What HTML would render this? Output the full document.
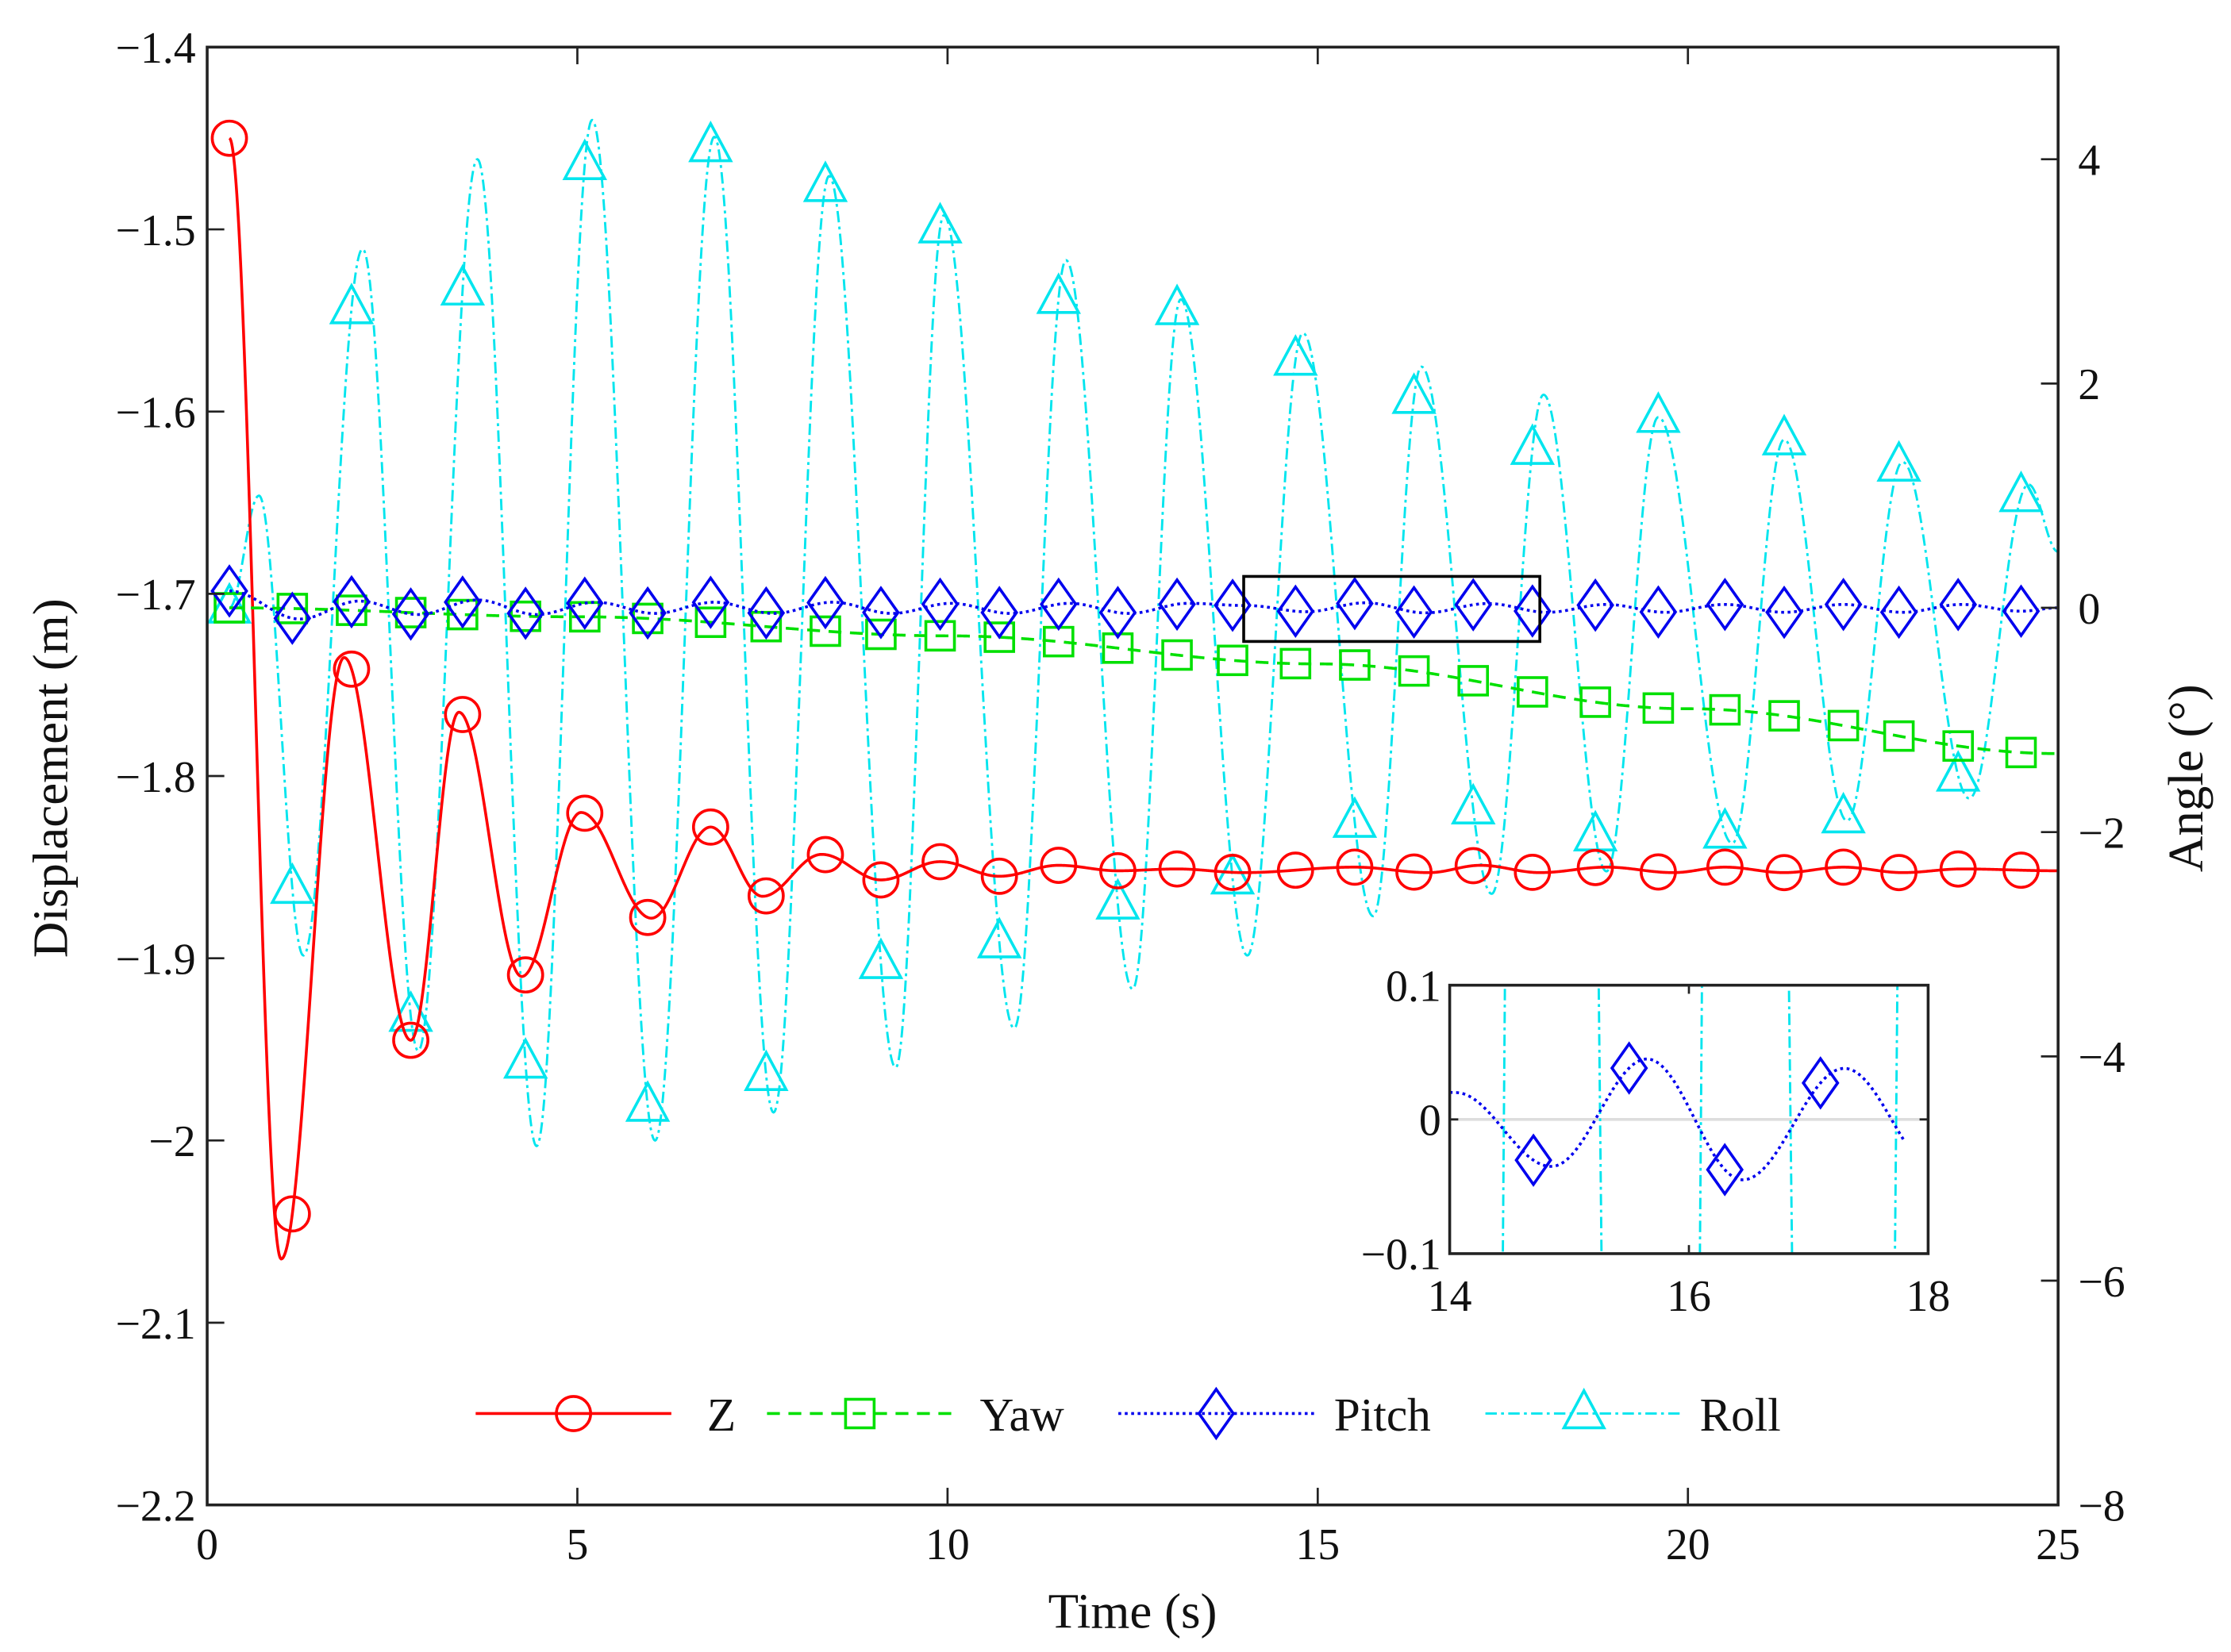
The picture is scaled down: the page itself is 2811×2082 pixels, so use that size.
<!DOCTYPE html>
<html><head><meta charset="utf-8"><style>
html,body{margin:0;padding:0;background:#fff;width:2811px;height:2082px;overflow:hidden}
svg{display:block}
text{font-family:"Liberation Serif",serif;fill:#111}
</style></head><body>
<svg id="chart" width="2811" height="2082" viewBox="0 0 1562 1157" xmlns="http://www.w3.org/2000/svg">
<defs>
<clipPath id="mainClip"><rect x="145" y="33" width="1296" height="1021"/></clipPath>
<clipPath id="insetClip"><rect x="1015" y="690" width="335" height="188"/></clipPath>
</defs>
<g id="plot"></g>
</svg>
<script>
// ---- data ----
const xTicks = [0, 5, 10, 15, 20, 25];
const leftTicks = [-1.4, -1.5, -1.6, -1.7, -1.8, -1.9, -2, -2.1, -2.2];
const leftTickLabels = ["\u22121.4","\u22121.5","\u22121.6","\u22121.7","\u22121.8","\u22121.9","\u22122","\u22122.1","\u22122.2"];
const rightTicks = [4, 2, 0, -2, -4, -6, -8];
const rightTickLabels = ["4","2","0","\u22122","\u22124","\u22126","\u22128"];
const markerTimes = [0.3,1.15,1.95,2.75,3.45,4.3,5.1,5.95,6.8,7.55,8.35,9.1,9.9,10.7,11.5,12.3,13.1,13.85,14.7,15.5,16.3,17.1,17.9,18.75,19.6,20.5,21.3,22.1,22.85,23.65,24.5];
const zTimes = [0.3,1.0,1.85,2.75,3.4,4.25,5.05,6.0,6.8,7.5,8.3,9.1,9.9,10.7,11.5,12.3,13.1,14.0,15.5,16.5,17.2,18.0,18.9,19.8,20.5,21.3,22.1,22.9,23.7,25];
const zValues = [-1.45,-2.065,-1.735,-1.945,-1.765,-1.91,-1.82,-1.878,-1.828,-1.866,-1.843,-1.857,-1.847,-1.855,-1.849,-1.852,-1.851,-1.853,-1.850,-1.853,-1.849,-1.853,-1.85,-1.853,-1.85,-1.853,-1.85,-1.853,-1.851,-1.852];
const yawTimes = [0.3,5,10,15,20,25];
const yawValues = [0,-0.08,-0.25,-0.5,-0.9,-1.3];
const pitchTimes = [0.3,1.25,2.05,2.85,3.65,4.45,5.25,6.05,6.85,7.65,8.45,9.25,10.05,10.85,11.65,12.45,13.25,14.05,14.85,15.65,16.45,17.3,18.1,18.9,19.7,20.5,21.3,22.1,22.9,23.7,24.5,25];
const pitchValues = [0.15,-0.1,0.06,-0.06,0.07,-0.06,0.05,-0.05,0.05,-0.05,0.05,-0.05,0.04,-0.05,0.04,-0.05,0.04,0.02,-0.035,0.045,-0.045,0.038,-0.04,0.03,-0.04,0.03,-0.04,0.03,-0.04,0.03,-0.03,0.0];
const rollTimes = [0.3,0.7,1.3,2.1,2.85,3.65,4.45,5.2,6.05,6.85,7.65,8.4,9.3,9.95,10.9,11.6,12.5,13.15,14.05,14.8,15.75,16.4,17.35,18.05,18.9,19.6,20.6,21.3,22.15,22.9,23.8,24.6,25];
const rollValues = [0,1.0,-3.1,3.2,-3.95,4.0,-4.8,4.35,-4.75,4.2,-4.5,3.85,-4.1,3.5,-3.75,3.1,-3.4,2.75,-3.1,2.45,-2.75,2.15,-2.55,1.9,-2.35,1.7,-2.1,1.5,-1.9,1.3,-1.7,1.1,0.5];
const insetXTicks = [14, 16, 18];
const insetYTicks = [0.1, 0, -0.1];
const insetYTickLabels = ["0.1","0","\u22120.1"];

// ---- axes ----
const X0=145,X1=1441,Y0=33,Y1=1054;
const sx = t => X0 + (t-0)/25*(X1-X0);
const syL = v => Y0 + (-1.4 - v)/0.8*(Y1-Y0);
const syR = v => Y0 + (5 - v)/13*(Y1-Y0);
const IX0=1015,IX1=1350,IY0=690,IY1=878;
const ix = t => IX0 + (t-14)/4*(IX1-IX0);
const iy = v => IY0 + (0.1 - v)/0.2*(IY1-IY0);

function interp(T,V,t){
  if(t<=T[0]) return V[0];
  for(let i=0;i<T.length-1;i++){
    if(t<=T[i+1]){const u=(t-T[i])/(T[i+1]-T[i]);return V[i]+(V[i+1]-V[i])*(1-Math.cos(Math.PI*u))/2;}
  }
  return V[V.length-1];
}
const NS="http://www.w3.org/2000/svg";
const plot=document.getElementById('plot');
function mk(tag,attrs,parent){const e=document.createElementNS(NS,tag);for(const k in attrs)e.setAttribute(k,attrs[k]);(parent||plot).appendChild(e);return e;}
function pathFor(T,V,xf,yf,t0,t1){let d='';for(let t=t0;t<=t1+1e-9;t+=0.01){d+=(d?'L':'M')+xf(t).toFixed(2)+','+yf(interp(T,V,t)).toFixed(2);}return d;}

const styles={
  z:{c:'#ff0000',dash:'',w:2},
  yaw:{c:'#00e000',dash:'9,6',w:2},
  pitch:{c:'#0000ee',dash:'2,2.5',w:2},
  roll:{c:'#00e5ee',dash:'8,3,2,3',w:1.6}
};
function marker(kind,x,y,parent,c){
  let e;
  if(kind==='z') e=mk('circle',{cx:x,cy:y,r:12,fill:'none',stroke:c,'stroke-width':2},parent);
  else if(kind==='yaw') e=mk('rect',{x:x-10,y:y-10,width:20,height:20,fill:'none',stroke:c,'stroke-width':2},parent);
  else if(kind==='pitch') e=mk('polygon',{points:`${x},${y-17} ${x+12},${y} ${x},${y+17} ${x-12},${y}`,fill:'none',stroke:c,'stroke-width':2},parent);
  else e=mk('polygon',{points:`${x},${y-16} ${x+14},${y+10} ${x-14},${y+10}`,fill:'none',stroke:c,'stroke-width':2},parent);
  return e;
}

// series
const mainG=mk('g',{'clip-path':'url(#mainClip)'});


const series=[
  ['roll',rollTimes,rollValues,syR],
  ['z',zTimes,zValues,syL],
  ['yaw',yawTimes,yawValues,syR],
  ['pitch',pitchTimes,pitchValues,syR]
];
series.forEach(([k,T,V,yf])=>{
  const s=styles[k];
  const p=mk('path',{d:pathFor(T,V,sx,yf,T[0],25),fill:'none',stroke:s.c,'stroke-width':s.w,'stroke-dasharray':s.dash},mainG);
  
  
  markerTimes.forEach(t=>{
    const m=marker(k,sx(t),yf(interp(T,V,t)),mainG,s.c);
    
    
  });
});

// zoom rectangle
const zr=mk('rect',{x:sx(14),y:syR(0.28),width:sx(18)-sx(14),height:syR(-0.3)-syR(0.28),fill:'none',stroke:'#000','stroke-width':2});



// main frame + ticks
const frame=mk('rect',{x:X0,y:Y0,width:X1-X0,height:Y1-Y0,fill:'none',stroke:'#222','stroke-width':2});


xTicks.forEach(t=>{
  mk('line',{x1:sx(t),y1:Y1,x2:sx(t),y2:Y1-12,stroke:'#222','stroke-width':1.5});
  mk('line',{x1:sx(t),y1:Y0,x2:sx(t),y2:Y0+12,stroke:'#222','stroke-width':1.5});
  const tx=mk('text',{x:sx(t),y:Y1+38,'text-anchor':'middle','font-size':31});
  tx.textContent=String(t);
  
  
});
leftTicks.forEach((v,i)=>{
  mk('line',{x1:X0,y1:syL(v),x2:X0+12,y2:syL(v),stroke:'#222','stroke-width':1.5});
  const tx=mk('text',{x:X0-8,y:syL(v)+11,'text-anchor':'end','font-size':31});
  tx.textContent=leftTickLabels[i];
  
  
});
rightTicks.forEach((v,i)=>{
  mk('line',{x1:X1,y1:syR(v),x2:X1-12,y2:syR(v),stroke:'#222','stroke-width':1.5});
  const tx=mk('text',{x:X1+14,y:syR(v)+11,'text-anchor':'start','font-size':31});
  tx.textContent=rightTickLabels[i];
  
  
});
const xl=mk('text',{x:793,y:1140,'text-anchor':'middle','font-size':35});xl.textContent='Time (s)';


const yl=mk('text',{x:0,y:0,'text-anchor':'middle','font-size':35,transform:'translate(47,545) rotate(-90)'});yl.textContent='Displacement (m)';


const yr=mk('text',{x:0,y:0,'text-anchor':'middle','font-size':35,transform:'translate(1542,545) rotate(-90)'});yr.textContent='Angle (\u00b0)';



// inset
const insetG=mk('g',{});


mk('rect',{x:IX0,y:IY0,width:IX1-IX0,height:IY1-IY0,fill:'#fff'},insetG);
mk('line',{x1:IX0,y1:iy(0),x2:IX1,y2:iy(0),stroke:'#ddd','stroke-width':2},insetG);
const icg=mk('g',{'clip-path':'url(#insetClip)'},insetG);
const ir=mk('path',{d:pathFor(rollTimes,rollValues,ix,iy,14,18),fill:'none',stroke:styles.roll.c,'stroke-width':1.6,'stroke-dasharray':styles.roll.dash},icg);


const ip=mk('path',{d:pathFor(pitchTimes,pitchValues,ix,iy,14,17.8),fill:'none',stroke:styles.pitch.c,'stroke-width':2,'stroke-dasharray':styles.pitch.dash},icg);


markerTimes.filter(t=>t>14&&t<17.8).forEach(t=>{
  const m=marker('pitch',ix(t),iy(interp(pitchTimes,pitchValues,t)),icg,styles.pitch.c);
  
  
});
mk('rect',{x:IX0,y:IY0,width:IX1-IX0,height:IY1-IY0,fill:'none',stroke:'#222','stroke-width':2},insetG);
insetXTicks.forEach(t=>{
  mk('line',{x1:ix(t),y1:IY1,x2:ix(t),y2:IY1-6,stroke:'#222','stroke-width':1.5},insetG);
  mk('line',{x1:ix(t),y1:IY0,x2:ix(t),y2:IY0+6,stroke:'#222','stroke-width':1.5},insetG);
  const tx=mk('text',{x:ix(t),y:IY1+40,'text-anchor':'middle','font-size':31},insetG);tx.textContent=String(t);
  
  
});
insetYTicks.forEach((v,i)=>{
  mk('line',{x1:IX0,y1:iy(v),x2:IX0+6,y2:iy(v),stroke:'#222','stroke-width':1.5},insetG);
  mk('line',{x1:IX1,y1:iy(v),x2:IX1-6,y2:iy(v),stroke:'#222','stroke-width':1.5},insetG);
  const tx=mk('text',{x:IX0-6,y:iy(v)+11,'text-anchor':'end','font-size':31},insetG);tx.textContent=insetYTickLabels[i];
  
  
});

// legend
const legend=[['z','Z',333,470,495],['yaw','Yaw',537,667,686],['pitch','Pitch',783,920,934],['roll','Roll',1040,1178,1190]];
const lg=mk('g',{});


legend.forEach(([k,label,a,b,tx0])=>{
  const s=styles[k];
  const g=mk('g',{},lg);
  
  
  mk('line',{x1:a,y1:990,x2:b,y2:990,stroke:s.c,'stroke-width':s.w,'stroke-dasharray':s.dash},g);
  marker(k,(a+b)/2,990,g,s.c);
  const t=mk('text',{x:tx0,y:1002,'font-size':33},g);t.textContent=label;
});
</script>
</body></html>
